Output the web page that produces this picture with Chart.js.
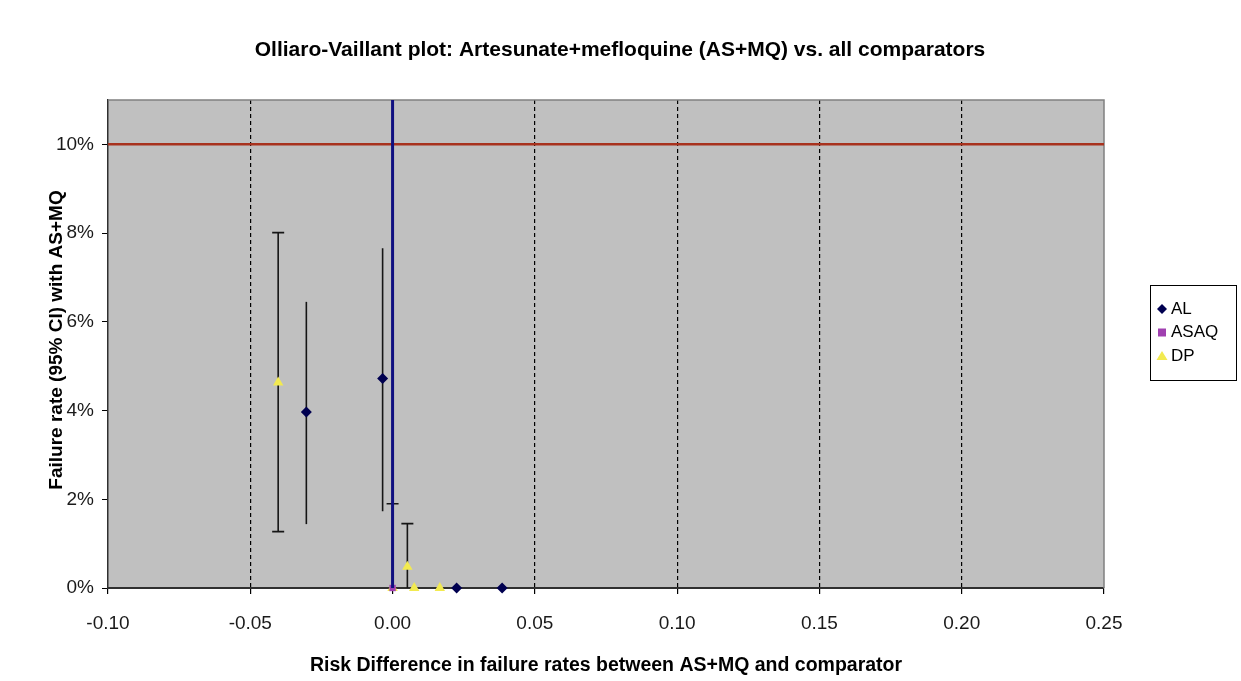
<!DOCTYPE html>
<html>
<head>
<meta charset="utf-8">
<script src="https://cdn.jsdelivr.net/npm/chart.js@4/dist/chart.umd.min.js"></script>
<style>
  html, body { margin: 0; padding: 0; background: #fff; }
  #wrap { width: 1241px; height: 681px; position: relative; }
</style>
</head>
<body>
<div id="wrap"><canvas id="c" width="1241" height="681"></canvas></div>
<script>
// Series: risk difference (x), failure rate (y) and 95% CI bounds
const alX   = [-0.0303, -0.0035, 0.0225, 0.0385];
const alY   = [0.0397, 0.0472, 0, 0];
const alLo  = [0.0144, 0.0173, null, null];
const alHi  = [0.0645, 0.0766, null, null];

const asaqX  = [0.0];
const asaqY  = [0.0];
const asaqLo = [0.0];
const asaqHi = [0.0190];

const dpX   = [-0.0402, 0.0052, 0.0, 0.0076, 0.0166];
const dpY   = [0.0463, 0.0048, 0, 0, 0];
const dpLo  = [0.0127, 0.0, null, null, null];
const dpHi  = [0.0801, 0.0145, null, null, null];

// Reference lines: no difference (x = 0) and 10% failure threshold
const refDiff = 0.0;
const refFail = 0.10;

// Axis ranges
const xMin = -0.10, xMax = 0.25, xStep = 0.05;
const yMin = 0, yMax = 0.11, yStep = 0.02;

const titleText = 'Olliaro-Vaillant plot: Artesunate+mefloquine (AS+MQ) vs. all comparators';
const xTitle = 'Risk Difference in failure rates between AS+MQ and comparator';
const yTitle = 'Failure rate (95% CI) with AS+MQ';

const FONT = '"Liberation Sans", Arial, sans-serif';

function pts(xs, ys, lo, hi) {
  return xs.map((x, i) => ({ x: x, y: ys[i], lo: lo[i], hi: hi[i] }));
}

const alData = pts(alX, alY, alLo, alHi);
const asaqData = pts(asaqX, asaqY, asaqLo, asaqHi);
const dpData = pts(dpX, dpY, dpLo, dpHi);

// Plot background, border, error bars, titles and legend
const plotDecor = {
  id: 'plotDecor',
  beforeDraw(chart) {
    const { ctx, chartArea: a } = chart;
    ctx.save();
    ctx.fillStyle = '#c0c0c0';
    ctx.fillRect(a.left, a.top, a.right - a.left, a.bottom - a.top);
    ctx.restore();
  },
  beforeDatasetsDraw(chart) {
    const { ctx, chartArea: a } = chart;
    ctx.save();
    ctx.strokeStyle = '#808080';
    ctx.lineWidth = 1.5;
    ctx.beginPath();
    ctx.moveTo(a.left, a.top);
    ctx.lineTo(a.right, a.top);
    ctx.lineTo(a.right, a.bottom);
    ctx.stroke();

    // error bars
    const xs = chart.scales.x, ys = chart.scales.y;
    chart.data.datasets.forEach(ds => {
      if (!ds.errorBars) return;
      ctx.strokeStyle = '#151515';
      ctx.lineWidth = 1.6;
      ds.data.forEach(p => {
        if (p.lo == null || p.hi == null) return;
        const px = xs.getPixelForValue(p.x);
        const yl = ys.getPixelForValue(p.lo);
        const yh = ys.getPixelForValue(p.hi);
        ctx.beginPath();
        ctx.moveTo(px, yl);
        ctx.lineTo(px, yh);
        if (ds.errorCaps) {
          ctx.moveTo(px - 6, yh); ctx.lineTo(px + 6, yh);
          if (p.lo > 0) { ctx.moveTo(px - 6, yl); ctx.lineTo(px + 6, yl); }
        }
        ctx.stroke();
      });
    });
    ctx.restore();
  },
  afterDraw(chart) {
    const { ctx, chartArea: a } = chart;
    ctx.save();
    ctx.fillStyle = '#000';
    ctx.textAlign = 'center';
    ctx.textBaseline = 'middle';
    // title
    ctx.font = 'bold 21px ' + FONT;
    ctx.fillText(titleText, 620, 50);
    // x title
    ctx.font = 'bold 19.5px ' + FONT;
    ctx.fillText(xTitle, (a.left + a.right) / 2, 666);
    // y title
    ctx.font = 'bold 19px ' + FONT;
    ctx.translate(57, (a.top + a.bottom) / 2 - 4);
    ctx.rotate(-Math.PI / 2);
    ctx.fillText(yTitle, 0, 0);
    ctx.restore();

    // legend
    const series = chart.data.datasets.filter(d => d.inLegend);
    const bx = 1150, by = 285, bw = 86, bh = 95;
    ctx.save();
    ctx.fillStyle = '#fff';
    ctx.fillRect(bx, by, bw, bh);
    ctx.strokeStyle = '#000';
    ctx.lineWidth = 1;
    ctx.strokeRect(bx + 0.5, by + 0.5, bw, bh);
    ctx.font = '17px ' + FONT;
    ctx.textAlign = 'left';
    ctx.textBaseline = 'middle';
    series.forEach((d, i) => {
      const cy = by + 24 + i * 23.5;
      const cx = bx + 12;
      ctx.fillStyle = d.backgroundColor;
      ctx.beginPath();
      if (d.pointStyle === 'rectRot') {
        const r = 5;
        ctx.moveTo(cx, cy - r); ctx.lineTo(cx + r, cy); ctx.lineTo(cx, cy + r); ctx.lineTo(cx - r, cy);
      } else if (d.pointStyle === 'rect') {
        ctx.rect(cx - 4, cy - 4, 8, 8);
      } else {
        ctx.moveTo(cx, cy - 5); ctx.lineTo(cx + 5.5, cy + 4); ctx.lineTo(cx - 5.5, cy + 4);
      }
      ctx.closePath();
      ctx.fill();
      ctx.fillStyle = '#000';
      ctx.fillText(d.label, bx + 21, cy);
    });
    ctx.restore();
  }
};

new Chart(document.getElementById('c'), {
  type: 'scatter',
  data: {
    datasets: [
      {
        label: 'AL', data: alData, inLegend: true, errorBars: true, errorCaps: false,
        pointStyle: 'rectRot', pointRadius: 5.5, pointHoverRadius: 5.5, clip: false,
        backgroundColor: '#000050', borderColor: '#000050', borderWidth: 0, order: 2
      },
      {
        label: 'ASAQ', data: asaqData, inLegend: true, errorBars: true, errorCaps: true,
        pointStyle: 'rect', pointRadius: 4.5, pointHoverRadius: 4.5, clip: false,
        backgroundColor: '#a040b0', borderColor: '#a040b0', borderWidth: 0, order: 1
      },
      {
        label: 'DP', data: dpData, inLegend: true, errorBars: true, errorCaps: true,
        pointStyle: 'triangle', pointRadius: 6, pointHoverRadius: 6, clip: false,
        backgroundColor: '#f2ea50', borderColor: '#f2ea50', borderWidth: 0, order: 3
      },
      {
        label: 'no difference', data: [{ x: refDiff, y: yMin }, { x: refDiff, y: yMax }],
        showLine: true, pointRadius: 0, borderColor: '#101080', borderWidth: 3, order: 0
      },
      {
        label: '10% threshold', data: [{ x: xMin, y: refFail }, { x: xMax, y: refFail }],
        showLine: true, pointRadius: 0, borderColor: '#a8321e', borderWidth: 2.5, order: 4
      }
    ]
  },
  options: {
    responsive: false,
    animation: false,
    events: [],
    layout: { padding: { top: 100, right: 137, left: 0, bottom: 0 } },
    plugins: {
      legend: { display: false },
      title: { display: false },
      tooltip: { enabled: false }
    },
    scales: {
      x: {
        type: 'linear', min: xMin, max: xMax,
        afterFit(s) { s.height = 93; },
        border: { display: true, color: '#303030', width: 2, dash: [4, 3] },
        grid: {
          drawOnChartArea: true,
          color: ctx => (ctx.index === 0 || ctx.tick && Math.abs(ctx.tick.value - xMax) < 1e-9) ? 'rgba(0,0,0,0)' : '#000',
          lineWidth: 1.2,
          tickColor: '#000',
          tickBorderDash: [1, 0],
          tickLength: 6,
          drawTicks: true
        },
        ticks: {
          stepSize: xStep,
          padding: 18,
          color: '#1a1a1a',
          font: { family: FONT, size: 19 },
          callback: v => (Math.abs(v) < 1e-9 ? 0 : v).toFixed(2)
        }
      },
      y: {
        type: 'linear', min: yMin, max: yMax,
        afterFit(s) { s.width = 108; },
        border: { display: true, color: '#303030', width: 1.5 },
        grid: { drawOnChartArea: false, drawTicks: true, tickLength: 6, tickColor: '#000' },
        ticks: {
          stepSize: yStep,
          includeBounds: false,
          padding: 8,
          color: '#1a1a1a',
          font: { family: FONT, size: 19 },
          callback: v => Math.round(v * 100) + '%'
        }
      }
    }
  },
  plugins: [plotDecor]
});
</script>
</body>
</html>
